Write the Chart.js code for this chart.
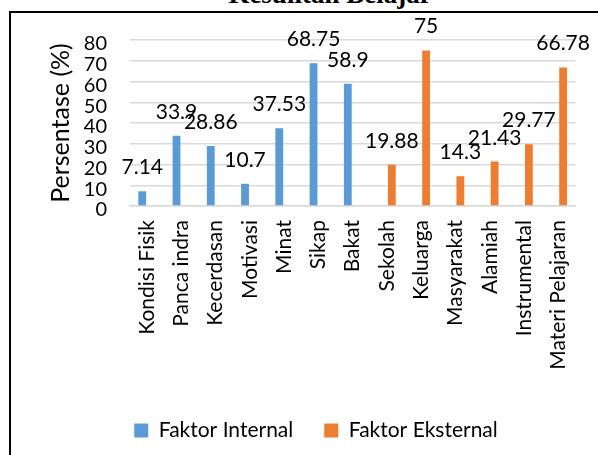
<!DOCTYPE html>
<html>
<head>
<meta charset="utf-8">
<script src="https://cdn.jsdelivr.net/npm/chart.js@4/dist/chart.umd.min.js"></script>
<style>
  html, body { margin: 0; padding: 0; background: #fff; overflow: hidden; width: 598px; height: 455px; }
  #wrap { position: relative; width: 598px; height: 455px; overflow: hidden; background: #fff; }
  #frame { position: absolute; left: 9px; top: 11px; width: 700px; height: 600px;
           border-left: 2px solid #000; border-top: 2px solid #000; }
  #title { position: absolute; left: 0; top: -19px; width: 660px; text-align: center;
           font: bold 27px/27px "Liberation Serif", "Times New Roman", serif; color: #000; white-space: nowrap; }
  canvas { position: absolute; left: 0; top: 0; }
</style>
</head>
<body>
<div id="wrap">
  <div id="title">Kesulitan Belajar</div>
  <div id="frame"></div>
  <canvas id="chart" width="598" height="455"></canvas>
</div>
<script>
// Factors behind learning difficulties, percentage per factor
const categories = ['Kondisi Fisik', 'Panca indra', 'Kecerdasan', 'Motivasi', 'Minat', 'Sikap', 'Bakat',
                    'Sekolah', 'Keluarga', 'Masyarakat', 'Alamiah', 'Instrumental', 'Materi Pelajaran'];
const internalValues = [7.14, 33.9, 28.86, 10.7, 37.53, 68.75, 58.9, null, null, null, null, null, null];
const externalValues = [null, null, null, null, null, null, null, 19.88, 75, 14.3, 21.43, 29.77, 66.78];
const yTicks = [0, 10, 20, 30, 40, 50, 60, 70, 80];

const FONT = 'Lato';

// Writes each bar's value above it
const valueLabels = {
  id: 'valueLabels',
  afterDatasetsDraw(chart) {
    const ctx = chart.ctx;
    ctx.save();
    ctx.font = '21px ' + FONT;
    ctx.fillStyle = '#000';
    ctx.textAlign = 'center';
    ctx.textBaseline = 'alphabetic';
    chart.data.datasets.forEach((ds, i) => {
      const meta = chart.getDatasetMeta(i);
      meta.data.forEach((bar, j) => {
        const v = ds.data[j];
        if (v === null || v === undefined) return;
        ctx.fillText(String(v), bar.x, bar.y - 17);
      });
    });
    ctx.restore();
  }
};

new Chart(document.getElementById('chart'), {
  type: 'bar',
  data: {
    labels: categories,
    datasets: [
      { label: 'Faktor Internal', data: internalValues, backgroundColor: '#5B9BD5',
        categoryPercentage: 0.57, barPercentage: 0.8 },
      { label: 'Faktor Eksternal', data: externalValues, backgroundColor: '#ED7D31',
        categoryPercentage: 0.57, barPercentage: 0.8 }
    ]
  },
  options: {
    responsive: false,
    animation: false,
    devicePixelRatio: 1,
    layout: { padding: { left: 48, right: 14, top: 40, bottom: 4 } },
    plugins: {
      legend: {
        position: 'bottom',
        labels: { boxWidth: 14, boxHeight: 14, padding: 31, color: '#000', font: { family: FONT, size: 21 } }
      },
      tooltip: { enabled: false }
    },
    scales: {
      x: {
        grid: { display: false, drawTicks: false },
        border: { display: true, color: '#d9d9d9', width: 1.5 },
        ticks: { maxRotation: 90, minRotation: 90, autoSkip: false, padding: 14, color: '#000',
                 font: { family: FONT, size: 21 } },
        afterFit(scale) { scale.height = 183; }
      },
      y: {
        min: 0,
        max: 80,
        afterBuildTicks(scale) { scale.ticks = yTicks.map(v => ({ value: v })); },
        grid: { color: '#d9d9d9', lineWidth: 1.5, drawTicks: false },
        border: { display: false },
        ticks: { autoSkip: false, padding: 23, color: '#000', labelOffset: 4,
                 font: { family: FONT, size: 20 } },
        title: { display: true, text: 'Persentase (%)', color: '#000', padding: 0,
                 font: { family: FONT, size: 25, lineHeight: 1 } },
        afterFit(scale) { scale.width = 82; }
      }
    }
  },
  plugins: [valueLabels]
});
</script>
</body>
</html>
